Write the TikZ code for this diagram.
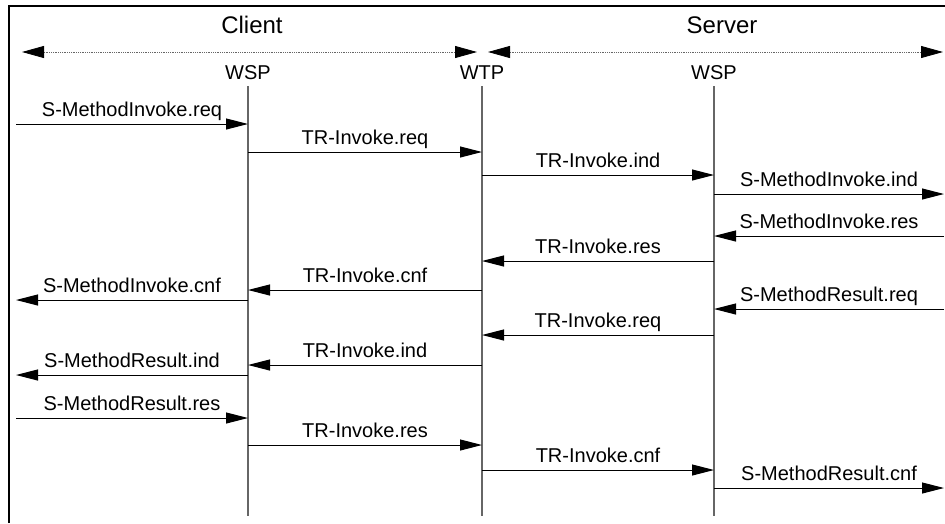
\documentclass[tikz,border=0pt]{standalone}
\usepackage{fontspec}
\setmainfont{Liberation Sans}
\usetikzlibrary{arrows.meta}

\tikzset{
  msg/.style={line width=1pt, -{Triangle[length=22pt,width=11pt]}},
  life/.style={line width=1.3pt, black!60},
  span/.style={densely dotted, line width=0.8pt, black!60,
    {Triangle[length=22pt,width=12pt,color=black]}-{Triangle[length=22pt,width=12pt,color=black]}},
  lbl/.style={midway, anchor=base, yshift=7.5pt, font=\fontsize{20}{24}\selectfont},
  head/.style={anchor=base, font=\fontsize{24}{28}\selectfont},
  ent/.style={anchor=base, font=\fontsize{20}{24}\selectfont}
}

\begin{document}
\begin{tikzpicture}[x=1pt,y=-1pt]
  \useasboundingbox (0,0) rectangle (945,523);

  % frame
  \coordinate (nw) at (9,6);
  \draw[line width=1.5pt] (9,523) -- (nw) -- (945,6);

  % client / server
  \node[head] (client) at (252,33) {Client};
  \node[head] (server) at (722,33) {Server};
  \coordinate (cl) at (22,52);
  \coordinate (cr) at (477,52);
  \coordinate (sl) at (488,52);
  \coordinate (sr) at (943,52);
  \draw[span] (cl) -- (cr);
  \draw[span] (sl) -- (sr);

  % entities and lifelines
  \node[ent] (wspc) at (248,79) {WSP};
  \node[ent] (wtp) at (482,79) {WTP};
  \node[ent] (wsps) at (714,79) {WSP};
  \coordinate (wspc-top) at (248,86);
  \coordinate (wtp-top) at (482,86);
  \coordinate (wsps-top) at (714,86);
  \coordinate (wspc-end) at (248,516);
  \coordinate (wtp-end) at (482,516);
  \coordinate (wsps-end) at (714,516);
  \draw[life] (wspc-top) -- (wspc-end);
  \draw[life] (wtp-top) -- (wtp-end);
  \draw[life] (wsps-top) -- (wsps-end);

  % outer ends
  \coordinate (lft) at (16,0);
  \coordinate (rgt) at (944,0);

  % rows
  \coordinate (r1) at (0,124);
  \coordinate (r2) at (0,152);
  \coordinate (r3) at (0,175);
  \coordinate (r4) at (0,194);
  \coordinate (r5) at (0,236);
  \coordinate (r6) at (0,261);
  \coordinate (r7) at (0,290);
  \coordinate (r8) at (0,300);
  \coordinate (r9) at (0,309);
  \coordinate (r10) at (0,335);
  \coordinate (r11) at (0,365);
  \coordinate (r12) at (0,375);
  \coordinate (r13) at (0,418);
  \coordinate (r14) at (0,445);
  \coordinate (r15) at (0,470);
  \coordinate (r16) at (0,488);

  % invoke
  \draw[msg] (lft |- r1) -- (wspc-top |- r1) node[lbl] {S-MethodInvoke.req};
  \draw[msg] (wspc-top |- r2) -- (wtp-top |- r2) node[lbl] {TR-Invoke.req};
  \draw[msg] (wtp-top |- r3) -- (wsps-top |- r3) node[lbl] {TR-Invoke.ind};
  \draw[msg] (wsps-top |- r4) -- (rgt |- r4) node[lbl] {S-MethodInvoke.ind};
  \draw[msg] (rgt |- r5) -- (wsps-top |- r5) node[lbl] {S-MethodInvoke.res};
  \draw[msg] (wsps-top |- r6) -- (wtp-top |- r6) node[lbl] {TR-Invoke.res};
  \draw[msg] (wtp-top |- r7) -- (wspc-top |- r7) node[lbl] {TR-Invoke.cnf};
  \draw[msg] (wspc-top |- r8) -- (lft |- r8) node[lbl] {S-MethodInvoke.cnf};

  % result
  \draw[msg] (rgt |- r9) -- (wsps-top |- r9) node[lbl] {S-MethodResult.req};
  \draw[msg] (wsps-top |- r10) -- (wtp-top |- r10) node[lbl] {TR-Invoke.req};
  \draw[msg] (wtp-top |- r11) -- (wspc-top |- r11) node[lbl] {TR-Invoke.ind};
  \draw[msg] (wspc-top |- r12) -- (lft |- r12) node[lbl] {S-MethodResult.ind};
  \draw[msg] (lft |- r13) -- (wspc-top |- r13) node[lbl] {S-MethodResult.res};
  \draw[msg] (wspc-top |- r14) -- (wtp-top |- r14) node[lbl] {TR-Invoke.res};
  \draw[msg] (wtp-top |- r15) -- (wsps-top |- r15) node[lbl] {TR-Invoke.cnf};
  \draw[msg] (wsps-top |- r16) -- (rgt |- r16) node[lbl] {S-MethodResult.cnf};
\end{tikzpicture}
\end{document}
